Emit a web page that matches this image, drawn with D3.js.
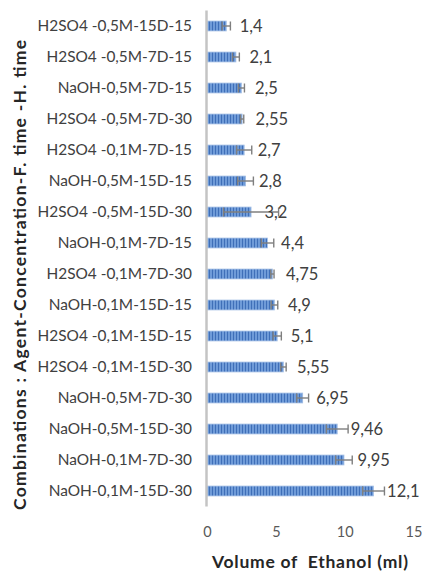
<!DOCTYPE html>
<html>
<head>
<meta charset="utf-8">
<script src="https://cdn.jsdelivr.net/npm/d3@7"></script>
<style>
html,body{margin:0;padding:0;background:#fff;}
svg{display:block;font-family:Lato, "Open Sans", sans-serif;}
</style>
</head>
<body>
<svg id="chart" width="422" height="572"></svg>
<script>
const categories = [
  "H2SO4 -0,5M-15D-15",
  "H2SO4 -0,5M-7D-15",
  "NaOH-0,5M-7D-15",
  "H2SO4 -0,5M-7D-30",
  "H2SO4 -0,1M-7D-15",
  "NaOH-0,5M-15D-15",
  "H2SO4 -0,5M-15D-30",
  "NaOH-0,1M-7D-15",
  "H2SO4 -0,1M-7D-30",
  "NaOH-0,1M-15D-15",
  "H2SO4 -0,1M-15D-15",
  "H2SO4 -0,1M-15D-30",
  "NaOH-0,5M-7D-30",
  "NaOH-0,5M-15D-30",
  "NaOH-0,1M-7D-30",
  "NaOH-0,1M-15D-30"
];
const values = [1.4, 2.1, 2.5, 2.55, 2.7, 2.8, 3.2, 4.4, 4.75, 4.9, 5.1, 5.55, 6.95, 9.46, 9.95, 12.1];
const errors = [0.3, 0.25, 0.22, 0.12, 0.55, 0.57, 2.0, 0.45, 0.12, 0.24, 0.3, 0.2, 0.43, 0.79, 0.6, 0.79];
const valueLabels = ["1,4", "2,1", "2,5", "2,55", "2,7", "2,8", "3,2", "4,4", "4,75", "4,9", "5,1", "5,55", "6,95", "9,46", "9,95", "12,1"];
const xTicks = [0, 5, 10, 15];
const xTitle = "Volume of  Ethanol (ml)";
const yTitle = "Combinations : Agent-Concentration-F. time -H. time";

const svg = d3.select("#chart");
const mLeft = 207, mRight = 413.5, mTop = 10.5, mBottom = 506.5;

const x = d3.scaleLinear().domain([0, 15]).range([mLeft, mRight]);
const y = d3.scaleBand().domain(categories).range([mTop, mBottom]).paddingInner(0.68).paddingOuter(0.34);

// stripe pattern
const defs = svg.append("defs");
const pat = defs.append("pattern").attr("id", "stripes").attr("patternUnits", "userSpaceOnUse")
  .attr("width", 3).attr("height", 10);
pat.append("rect").attr("width", 3).attr("height", 10).attr("fill", "#6f9bd8");
pat.append("rect").attr("x", 2).attr("width", 1).attr("height", 10).attr("fill", "#3f6fb8");

// bars
svg.append("g").selectAll("rect.bar").data(values).enter().append("rect")
  .attr("class", "bar")
  .attr("x", x(0))
  .attr("y", (d, i) => y(categories[i]))
  .attr("width", d => x(d) - x(0))
  .attr("height", y.bandwidth())
  .attr("fill", "url(#stripes)")
  .attr("stroke", "#a8c2e6").attr("stroke-width", 0.8);

// error bars
const eg = svg.append("g").attr("stroke", "#7f7f7f").attr("stroke-width", 1.4).attr("fill", "none");
values.forEach((v, i) => {
  const cy = y(categories[i]) + y.bandwidth() / 2;
  const x1 = x(v - errors[i]), x2 = x(v + errors[i]);
  eg.append("line").attr("x1", x1).attr("x2", x2).attr("y1", cy).attr("y2", cy);
  eg.append("line").attr("x1", x1).attr("x2", x1).attr("y1", cy - 4.5).attr("y2", cy + 4.5);
  eg.append("line").attr("x1", x2).attr("x2", x2).attr("y1", cy - 4.5).attr("y2", cy + 4.5);
});

// value labels
svg.append("g").selectAll("text").data(values).enter().append("text")
  .attr("x", d => x(d) + 13.5)
  .attr("y", (d, i) => y(categories[i]) + y.bandwidth() / 2)
  .attr("dy", "0.36em")
  .attr("font-size", 16.5)
  .attr("fill", "#404040")
  .text((d, i) => valueLabels[i]);

// y axis (category labels + axis line)
const yAxis = d3.axisLeft(y).tickSize(0).tickPadding(15);
const yg = svg.append("g").attr("transform", `translate(${mLeft},0)`).call(yAxis);
yg.select(".domain").remove();
yg.selectAll("text").attr("font-size", 15.4).attr("fill", "#404040").attr("font-family", "Lato, sans-serif");
svg.append("line").attr("x1", mLeft - 0.5).attr("x2", mLeft - 0.5).attr("y1", mTop).attr("y2", mBottom)
  .attr("stroke", "#c4c4c4").attr("stroke-width", 2.5);

// x axis ticks (no line)
const xAxis = d3.axisBottom(x).tickValues(xTicks).tickSize(0).tickPadding(0).tickFormat(d3.format("d"));
const xg = svg.append("g").attr("transform", `translate(0,527)`).call(xAxis);
xg.select(".domain").remove();
xg.selectAll("text").attr("font-size", 14.5).attr("fill", "#595959").attr("font-family", "Lato, sans-serif");

// titles
svg.append("text").attr("x", 310).attr("y", 562).attr("dy", "0.35em")
  .attr("text-anchor", "middle").attr("font-weight", "bold").attr("font-size", 17.5).attr("fill", "#262626")
  .attr("xml:space", "preserve").style("white-space", "pre")
  .attr("textLength", 196).attr("lengthAdjust", "spacing")
  .text(xTitle);
svg.append("text").attr("transform", "translate(20,275) rotate(-90)").attr("dy", "0.35em")
  .attr("text-anchor", "middle").attr("font-weight", "bold").attr("font-size", 17.5).attr("fill", "#262626")
  .attr("textLength", 470).attr("lengthAdjust", "spacing")
  .text(yTitle);
</script>
</body>
</html>
